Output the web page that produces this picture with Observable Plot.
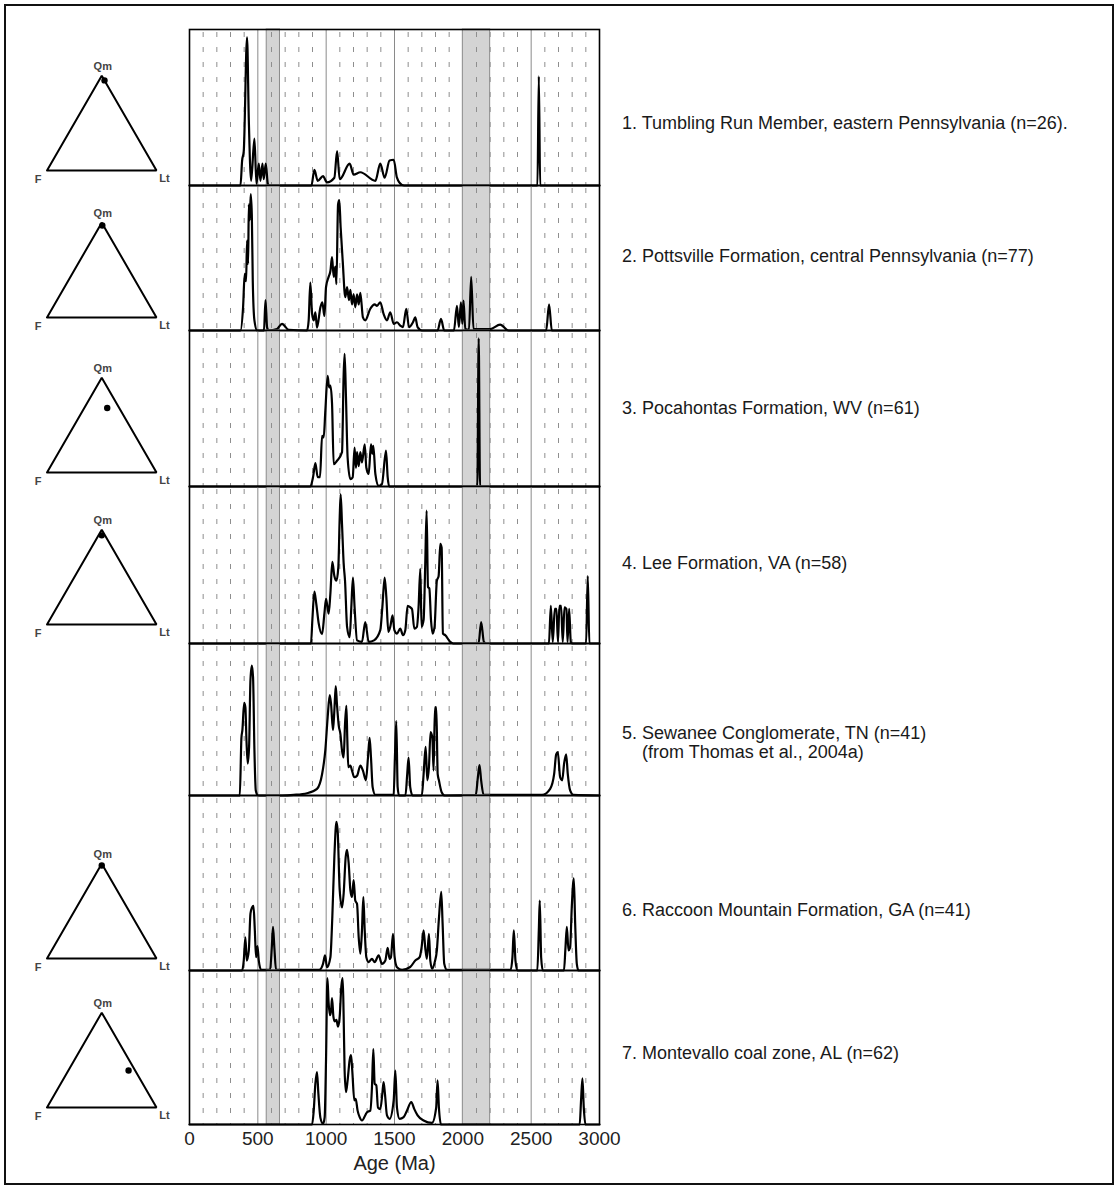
<!DOCTYPE html>
<html><head><meta charset="utf-8">
<script src="https://cdn.jsdelivr.net/npm/d3@7"></script>
<script src="https://cdn.jsdelivr.net/npm/@observablehq/plot@0.6"></script>
<style>
body{margin:0;background:#fff;font-family:"Liberation Sans",Arial,sans-serif;}
#fig{position:relative;width:1117px;height:1189px;overflow:hidden;background:#fff;}
#border{position:absolute;left:4px;top:4px;width:1106px;height:1177px;border:2px solid #111;}
.abs{position:absolute;}
.lab{position:absolute;font-size:18px;color:#1a1a1a;white-space:nowrap;line-height:18px;}
</style></head><body><div id="fig"><div id="border"></div></div>
<script>
// ---------- data: relative probability (0–100 of panel height) vs age (Ma) ----------
const tumblingRun = [[0,0],[373,0],[385,16],[397,22],[421,95],[434,42],[451,3],[475,30],[490,1],[507,14],[519,3],[534,14],[543,4],[558,14],[573,1],[580,0],
[892,0],[914,10],[938,3],[977,6],[1006,2],[1060,5],[1080,22],[1099,4],[1172,14],[1201,7],[1250,8.5],[1360,3],[1396,14],[1428,5],[1464,16],[1494,16.5],[1518,5],[1554,0.4],[1570,0],
[2546,0],[2556,70],[2566,0],[3000,0]];

const pottsville = [[0,0],[373,0],[392,16],[404,39],[414,34],[421,62],[429,46],[434,87],[441,76],[448,94],[456,80],[463,34],[475,7],[495,0],[545,0],[556,21],[568,2],[580,0],[640,1],[677,4.6],[726,0.5],[860,0],[872,7],[884,33],[897,11.5],[909,7],[921,12.6],[933,2],[958,16],[972,19.5],[987,10],[999,30],[1018,37],[1031,41],[1043,50.6],[1055,37],[1067,44],[1075,32],[1087,87],[1096,90],[1106,71],[1121,48],[1140,23],[1153,30],[1167,21],[1177,28],[1189,18],[1201,25],[1213,16],[1226,25],[1238,18],[1250,26],[1269,9],[1286,7],[1323,15],[1355,18],[1372,17],[1396,19.5],[1420,11.5],[1445,7],[1469,12.6],[1494,4.6],[1518,5.7],[1542,3.4],[1562,2.3],[1586,15],[1606,2.3],[1635,5.7],[1652,9],[1669,2.3],[1701,0],[1815,0],[1840,8],[1864,0],[1935,0],[1957,17],[1971,2.3],[1986,19.5],[1996,4.6],[2005,20.7],[2018,1],[2045,0.5],[2061,37],[2078,1],[2200,1],[2273,4],[2334,0],[2610,0],[2631,18],[2651,0],[3000,0]];

const pocahontas = [[0,0],[884,0],[904,6],[921,15],[938,6],[955,6],[970,32.5],[982,31.5],[994,48.6],[1011,71],[1021,63.6],[1031,64.7],[1043,53],[1055,14.3],[1079,16.5],[1116,22],[1128,72],[1135,85],[1145,57],[1157,18.6],[1177,4.7],[1194,5.8],[1208,25],[1218,12],[1226,22],[1238,13],[1250,22],[1262,15.4],[1282,27],[1294,12],[1311,8],[1328,27],[1338,21],[1345,26],[1360,8],[1384,0.4],[1408,1.5],[1438,23],[1450,6],[1462,0],[2106,0],[2116,95],[2126,0],[3000,0]];

const leeFm = [[0,0],[889,0],[899,15],[914,33],[928,25],[945,13],[970,6],[987,19],[999,28.5],[1018,19],[1031,32],[1045,52],[1060,43],[1075,40],[1089,48.6],[1099,80],[1106,95],[1116,76],[1128,51],[1138,40],[1153,10.6],[1172,4],[1184,23],[1196,42],[1208,23],[1226,2],[1262,1],[1286,13.7],[1311,1],[1350,2],[1396,8.5],[1411,23],[1428,42],[1440,30],[1455,7.4],[1469,10.6],[1486,18],[1499,8.5],[1518,6.3],[1542,9.5],[1562,5.3],[1579,8.5],[1596,24],[1616,23],[1628,22],[1645,9.5],[1664,10.6],[1676,23],[1689,47.6],[1698,10.6],[1713,15],[1725,50.7],[1735,84.6],[1745,36],[1755,35],[1767,15],[1779,6.3],[1793,10.6],[1810,40],[1823,43],[1835,63.4],[1845,61],[1854,6.3],[1871,5.3],[1908,1],[1930,0],[2115,0],[2134,13.7],[2154,1],[2170,0],[2630,0],[2644,24],[2658,1],[2673,22],[2685,22],[2696,1],[2707,24],[2719,24],[2731,1],[2744,23],[2758,22],[2766,1],[2778,22],[2790,1],[2800,0],[2902,0],[2914,43],[2926,0],[3000,0]];

const sewanee = [[0,0],[368,0],[380,38],[387,43],[400,61],[409,58],[417,36],[426,21],[436,32],[446,76],[456,85.5],[465,78],[475,30],[485,3.3],[500,0],[680,0],[763,0.4],[860,1.5],[933,4.4],[970,14],[994,30],[1011,51.5],[1026,66],[1036,60],[1050,43],[1060,56],[1070,72],[1079,60],[1092,46],[1104,40.6],[1116,29.6],[1128,25],[1138,47],[1148,59],[1155,36],[1162,18.6],[1177,19.7],[1189,16.4],[1206,12],[1226,13],[1250,19.7],[1269,16.4],[1291,10],[1306,25],[1318,38],[1328,25],[1340,5.5],[1360,0.4],[1494,0.4],[1503,25],[1513,49],[1523,5.5],[1533,0],[1580,0],[1593,14],[1603,25],[1615,5.5],[1632,0],[1700,0],[1713,14],[1728,32],[1740,10],[1752,18.6],[1764,41.7],[1777,38],[1786,16.4],[1796,58],[1806,58],[1816,14],[1825,10],[1845,2.2],[1869,0],[2095,0.4],[2110,12],[2122,20],[2134,10],[2152,0.4],[2580,0.4],[2639,4.4],[2668,14],[2683,27],[2695,28.5],[2712,12],[2727,10],[2741,21],[2756,27],[2768,14],[2785,3.3],[2809,0.4],[3000,0]];

const raccoonMtn = [[0,0],[385,0],[397,5.7],[409,19],[419,5.7],[434,11.5],[446,32.5],[458,36],[468,37],[478,23],[487,7.6],[497,14],[507,5.7],[524,0.4],[590,0.4],[602,13],[611,25],[621,13],[633,0.4],[950,0.4],[977,3.8],[992,8.6],[1006,1.9],[1031,7.6],[1045,30.6],[1060,65],[1075,85],[1084,80],[1099,46],[1116,36],[1128,44],[1143,65],[1153,69],[1165,61],[1177,46],[1189,42],[1201,51.6],[1213,40],[1226,38],[1238,19],[1250,9.6],[1262,23],[1272,42],[1282,23],[1294,7.6],[1311,4.8],[1335,6.7],[1355,4.8],[1384,8.6],[1408,3.8],[1433,5.7],[1450,13],[1464,6.7],[1474,7.6],[1489,21],[1501,7.6],[1518,1.9],[1555,0.4],[1615,2],[1652,5.7],[1684,7.6],[1698,13],[1713,23],[1725,13],[1737,6.7],[1752,21],[1762,5.7],[1776,1],[1795,5],[1810,11.5],[1825,29.6],[1842,45],[1852,26.8],[1864,3.8],[1883,0.4],[2350,0.4],[2363,7.6],[2373,23],[2385,5.7],[2400,0],[2545,0],[2556,23],[2563,40],[2573,7.6],[2585,0],[2740,0],[2751,13],[2761,25],[2773,11.5],[2785,13],[2797,36],[2812,52.6],[2822,26.8],[2834,3.8],[2846,0],[3000,0]];

const montevallo = [[0,0],[897,0],[909,9],[921,26.5],[933,34],[943,20],[958,4.3],[977,0.4],[989,4.8],[999,42],[1009,95],[1018,79],[1028,71],[1036,74],[1043,82],[1053,70],[1062,67],[1075,68],[1087,63.5],[1099,70],[1111,89.6],[1121,95],[1128,70],[1135,35],[1145,21],[1157,28.7],[1172,42],[1182,45],[1191,35],[1206,15.7],[1216,16.7],[1230,9],[1245,4.8],[1262,2.6],[1299,8],[1323,9],[1335,24],[1345,49],[1355,26.5],[1367,25.4],[1379,11],[1396,10],[1411,20],[1420,27.6],[1430,20],[1445,5.9],[1464,3.7],[1494,15.7],[1506,35],[1518,11],[1537,3.7],[1567,4.8],[1591,9],[1623,14.6],[1645,10],[1669,5.9],[1713,2.6],[1774,1],[1805,11],[1815,28.7],[1825,11],[1840,0],[2855,0],[2865,15.7],[2875,30],[2885,11],[2897,0],[3000,0]];

const sampleLabels = [
  ["1. Tumbling Run Member, eastern Pennsylvania (n=26)."],
  ["2. Pottsville Formation, central Pennsylvania (n=77)"],
  ["3. Pocahontas Formation, WV (n=61)"],
  ["4. Lee Formation, VA (n=58)"],
  ["5. Sewanee Conglomerate, TN (n=41)", "(from Thomas et al., 2004a)"],
  ["6. Raccoon Mountain Formation, GA (n=41)"],
  ["7. Montevallo coal zone, AL (n=62)"]
];
// QmFLt composition (fractions); null = no diagram
const qmValues = [0.95, 0.97, 0.68, 0.94, null, 0.98, 0.39];
const fValues  = [0.00, 0.01, 0.11, 0.03, null, 0.01, 0.06];
const ltValues = [0.05, 0.02, 0.21, 0.03, null, 0.01, 0.55];
const vertexNames = ["Qm", "F", "Lt"];

const xTicks = [0, 500, 1000, 1500, 2000, 2500, 3000];
const majorLines = [500, 1000, 1500, 2500];
const minorLines = [100,200,300,400,600,700,800,900,1100,1200,1300,1400,1600,1700,1800,1900,2100,2200,2300,2400,2600,2700,2800,2900];
const bands = [{x1: 565, x2: 662}, {x1: 2000, x2: 2200}];

// ---------- layout ----------
const curves = [tumblingRun, pottsville, pocahontas, leeFm, sewanee, raccoonMtn, montevallo];
const panelTops = [29, 185, 330, 486, 643, 795, 970];
const panelBottoms = [185, 330, 486, 643, 795, 970, 1124];
const triBases = [170, 317, 472, 624, null, 958, 1107];
const labelCenters = [[123], [256], [408], [563], [733, 752], [910], [1053]];
const labelLefts = [622, 642];

const fig = document.getElementById("fig");
const pad = 2;
const FONT = "Liberation Sans, Arial, sans-serif";

curves.forEach((data, i) => {
  const h = panelBottoms[i] - panelTops[i];
  const last = i === curves.length - 1;
  const extra = last ? 62 : 0;
  const marks = [
    Plot.rect(bands, {x1: "x1", x2: "x2", fill: "#d4d4d4", stroke: "#8a8a8a", strokeWidth: 1}),
    Plot.ruleX(minorLines, {stroke: "#8e8e8e", strokeWidth: 1, strokeDasharray: "5,10", strokeDashoffset: -3}),
    Plot.ruleX(majorLines, {stroke: "#8a8a8a", strokeWidth: 1}),
    Plot.line(data, {x: d => d[0], y: d => d[1], curve: "monotone-x", stroke: "#000", strokeWidth: 2.2}),
    Plot.frame({stroke: "#000", strokeWidth: 1.6})
  ];
  if (last) {
    marks.push(Plot.axisX({ticks: xTicks, tickSize: 0, tickPadding: 7, fontSize: 19, tickFormat: d => String(d), label: null, fill: "#222"}));
    marks.push(Plot.text(["Age (Ma)"], {frameAnchor: "bottom", dy: 45, fontSize: 20, fill: "#222"}));
  }
  const chart = Plot.plot({
    width: 451, height: h + pad * 2 + extra,
    marginLeft: 20, marginRight: 21, marginTop: pad, marginBottom: pad + extra,
    x: {domain: [0, 3000], axis: null},
    y: {domain: [0, 100], axis: null},
    style: {background: "transparent", fontFamily: FONT, overflow: "visible"},
    marks
  });
  chart.classList.add("abs");
  chart.style.left = "169px";
  chart.style.top = (panelTops[i] - pad) + "px";
  fig.appendChild(chart);

  // ternary diagram (Qm apex, F lower-left, Lt lower-right)
  if (triBases[i] !== null) {
    const s3 = Math.sqrt(3) / 2;
    const verts = [{x: 0, y: 0}, {x: 1, y: 0}, {x: 0.5, y: s3}, {x: 0, y: 0}];
    const pt = {x: ltValues[i] + qmValues[i] * 0.5, y: qmValues[i] * s3};
    const labStyle = {fontSize: 11, fontWeight: "bold", fill: "#444"};
    const tri = Plot.plot({
      width: 190, height: 140,
      marginLeft: 46.5, marginRight: 34, marginTop: 140 - 20 - 109.5 * s3, marginBottom: 20,
      x: {domain: [0, 1], axis: null},
      y: {domain: [0, s3], axis: null},
      style: {background: "transparent", fontFamily: FONT, overflow: "visible"},
      marks: [
        Plot.line(verts, {x: "x", y: "y", stroke: "#000", strokeWidth: 2, strokeLinejoin: "miter"}),
        Plot.dot([pt], {x: "x", y: "y", r: 3.2, fill: "#000"}),
        Plot.text([vertexNames[0]], {x: 0.5, y: s3, dx: 1, dy: -9, ...labStyle}),
        Plot.text([vertexNames[1]], {x: 0, y: 0, dx: -9, dy: 9, ...labStyle}),
        Plot.text([vertexNames[2]], {x: 1, y: 0, dx: 8, dy: 8, ...labStyle})
      ]
    });
    tri.classList.add("abs");
    tri.style.left = "0px";
    tri.style.top = (triBases[i] - 120) + "px";
    fig.appendChild(tri);
  }

  // sample label
  sampleLabels[i].forEach((txt, j) => {
    const d = document.createElement("div");
    d.className = "lab";
    d.textContent = txt;
    d.style.left = labelLefts[j] + "px";
    d.style.top = (labelCenters[i][j] - 9) + "px";
    fig.appendChild(d);
  });
});
</script>
</body></html>
